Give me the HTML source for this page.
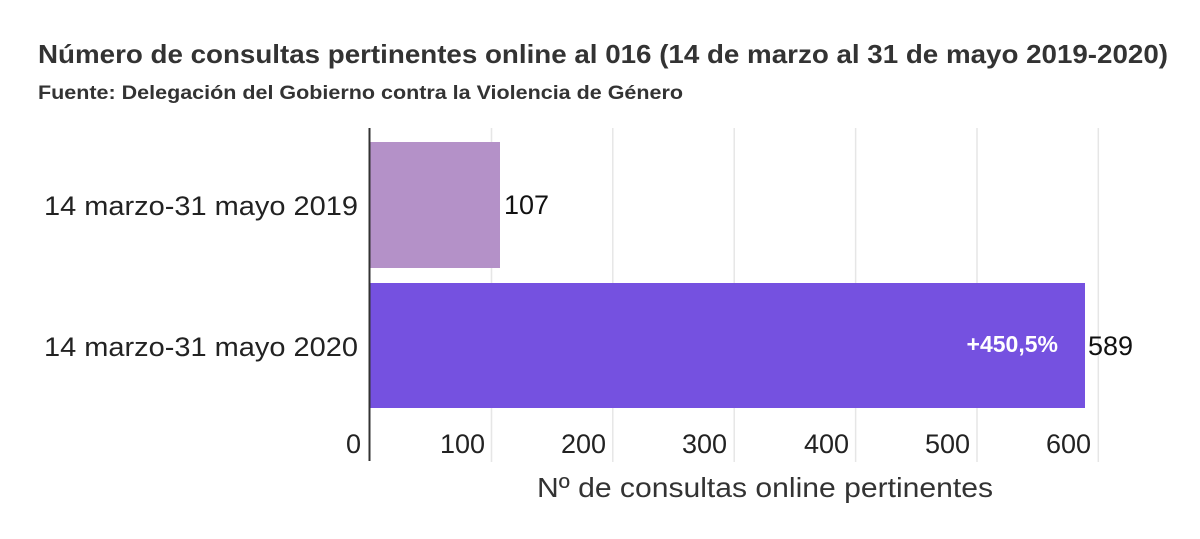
<!DOCTYPE html>
<html><head><meta charset="utf-8"><style>
body{margin:0;background:#fff;}
svg text{font-family:"Liberation Sans",sans-serif;}
</style></head><body>
<svg width="1200" height="534" xmlns="http://www.w3.org/2000/svg">
<rect width="1200" height="534" fill="#fff"/>
<text x="38" y="63" font-size="26" font-weight="bold" fill="#333" textLength="1130" lengthAdjust="spacingAndGlyphs">Número de consultas pertinentes online al 016 (14 de marzo al 31 de mayo 2019-2020)</text>
<text x="38" y="99" font-size="19" font-weight="bold" fill="#333" textLength="645" lengthAdjust="spacingAndGlyphs">Fuente: Delegación del Gobierno contra la Violencia de Género</text>
<g stroke="#e6e6e6" stroke-width="1.5">
<line x1="491.5" y1="128" x2="491.5" y2="462"/>
<line x1="612.8" y1="128" x2="612.8" y2="462"/>
<line x1="734.2" y1="128" x2="734.2" y2="462"/>
<line x1="855.6" y1="128" x2="855.6" y2="462"/>
<line x1="977" y1="128" x2="977" y2="462"/>
<line x1="1098.3" y1="128" x2="1098.3" y2="462"/>
</g>
<rect x="370" y="142" width="130" height="126" fill="#b491c8"/>
<rect x="370" y="283" width="715" height="125" fill="#7551e0"/>
<line x1="369.5" y1="128" x2="369.5" y2="461" stroke="#333" stroke-width="2"/>
<g font-size="27" fill="#222">
<text x="44" y="215" textLength="314" lengthAdjust="spacingAndGlyphs">14 marzo-31 mayo 2019</text>
<text x="44" y="356" textLength="314" lengthAdjust="spacingAndGlyphs">14 marzo-31 mayo 2020</text>
</g>
<g font-size="27" fill="#222" text-anchor="end">
<text x="361" y="453">0</text>
<text x="485" y="453">100</text>
<text x="606" y="453">200</text>
<text x="727" y="453">300</text>
<text x="849" y="453">400</text>
<text x="970" y="453">500</text>
<text x="1091" y="453">600</text>
</g>
<text x="504" y="214" font-size="27" fill="#111">107</text>
<text x="1088" y="355" font-size="27" fill="#111">589</text>
<text x="1058" y="352" font-size="23" font-weight="bold" fill="#fff" text-anchor="end">+450,5%</text>
<text x="537" y="497" font-size="28" fill="#333" textLength="456" lengthAdjust="spacingAndGlyphs">Nº de consultas online pertinentes</text>
</svg>
</body></html>
